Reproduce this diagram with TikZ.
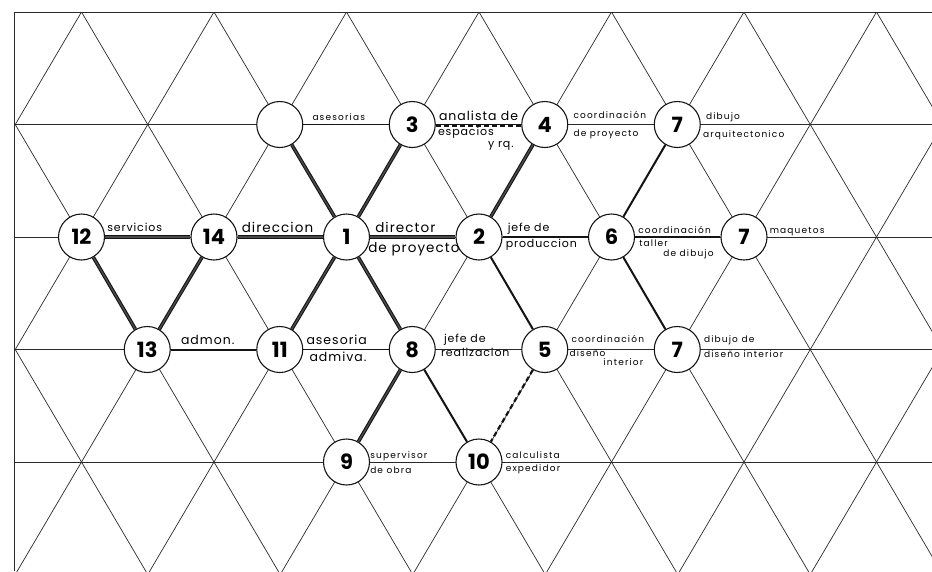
\documentclass[tikz,border=0pt]{standalone}
\usepackage{fontspec}
\setmainfont{Poppins}
\newfontfamily\letterfont[LetterSpace=13]{Poppins}
\newfontfamily\wordfont[LetterSpace=8]{Poppins}
\usetikzlibrary{positioning, calc}
\definecolor{gridInk}{HTML}{2A2A2A}
\definecolor{linkInk}{HTML}{151515}
\definecolor{linkFill}{HTML}{4A4A4A}

\begin{document}
\begin{tikzpicture}[
    x=1pt, y=-1pt,
    gridline/.style={draw=gridInk, line width=0.7pt},
    post/.style={
        circle, draw=linkInk, line width=1.1pt, fill=white,
        minimum size=46pt, inner sep=0pt,
        font=\fontsize{21}{21}\selectfont\bfseries
    },
    heavy/.style={draw=linkInk, line width=1.1pt, double=linkFill, double distance=1.4pt},
    medium/.style={draw=linkInk, line width=2pt},
    plain/.style={draw=linkInk, line width=0.9pt},
    dashlink/.style={draw=linkInk, line width=2.2pt, dash pattern=on 5pt off 3pt},
    tag/.style={font=\letterfont\fontsize{9}{9}\selectfont, anchor=base west, inner sep=0pt},
    midtag/.style={tag, font=\wordfont\fontsize{11}{11}\selectfont},
    bigtag/.style={tag, font=\wordfont\fontsize{12.5}{12.5}\selectfont}
]
\useasboundingbox (0,0) rectangle (932,571);

% Triangular grid
\begin{scope}
\clip (14.75,12) rectangle (932,571);
\foreach \r in {0,...,4}
    \draw[gridline] (14.75,12+112.5*\r) -- (932,12+112.5*\r);
\foreach \k in {-5,...,9} {
    \draw[gridline] (81.5+132.5*\k,12) -- ++(331.25,562.5);
    \draw[gridline] (81.5+132.5*\k,12) -- ++(-331.25,562.5);
}
\end{scope}
\draw[gridline] (14.75,571) -- (14.75,12) -- (932,12);

% Row 1
\node[post] (nb) at (279.75,124.5) {};
\node[post] (n3) at (412.25,124.5) {3};
\node[post] (n4) at (544.75,124.5) {4};
\node[post] (n7a) at (677.25,124.5) {7};

% Row 2
\node[post] (n12) at (81.5,237) {12};
\node[post] (n14) at (214,237) {14};
\node[post] (n1) at (346.5,237) {1};
\node[post] (n2) at (479,237) {2};
\node[post] (n6) at (611.5,237) {6};
\node[post] (n7b) at (744,237) {7};

% Row 3
\node[post] (n13) at (147.25,349.5) {13};
\node[post] (n11) at (279.75,349.5) {11};
\node[post] (n8) at (412.25,349.5) {8};
\node[post] (n5) at (544.75,349.5) {5};
\node[post] (n7c) at (677.25,349.5) {7};

% Row 4
\node[post] (n9) at (346.5,462) {9};
\node[post] (n10) at (479,462) {10};

% Links
\draw[heavy] (nb) -- (n1);
\draw[heavy] (n3) -- (n1);
\draw[heavy] (n4) -- (n2);
\draw[heavy] (n12) -- (n14);
\draw[heavy] (n14) -- (n1);
\draw[heavy] (n1) -- (n2);
\draw[heavy] (n12) -- (n13);
\draw[heavy] (n14) -- (n13);
\draw[heavy] (n1) -- (n11);
\draw[heavy] (n1) -- (n8);
\draw[heavy] (n8) -- (n9);
\draw[medium] (n13) -- (n11);
\draw[medium] (n2) -- (n6);
\draw[medium] (n2) -- (n5);
\draw[medium] (n6) -- (n7a);
\draw[medium] (n6) -- (n7c);
\draw[medium] (n6) -- (n7b);
\draw[medium] (n8) -- (n10);
\draw[plain] (nb) -- (n3);
\draw[plain] (n3) -- (n4);
\draw[dashlink, line width=1.4pt, transform canvas={yshift=-1.6pt}] (n3) -- (n4);
\draw[plain] (n11) -- (n8);
\draw[dashlink] (n5) -- (n10);

% Labels, row 1
\node[tag] (tb) at ($(nb.east)+(9,-4.5)$) {asesorias};
\node[bigtag] (t3a) at ($(n3.east)+(3,-4)$) {analista de};
\node[midtag] (t3b) at ($(n3.east)+(2,11)$) {espacios};
\node[midtag] (t3c) at ($(n3.east)+(52,23)$) {y rq.};
\node[tag] (t4a) at ($(n4.east)+(5,-6)$) {coordinación};
\node[tag] (t4b) at ($(n4.east)+(5,12)$) {de proyecto};
\node[tag] (t7a) at ($(n7a.east)+(5,-5)$) {dibujo};
\node[tag] (t7b) at ($(n7a.east)+(2,13)$) {arquitectonico};

% Labels, row 2
\node[midtag] (t12) at ($(n12.east)+(2,-6)$) {servicios};
\node[bigtag, font=\wordfont\fontsize{13.5}{13.5}\selectfont] (t14) at ($(n14.east)+(4,-5)$) {direccion};
\node[bigtag, font=\wordfont\fontsize{13.5}{13.5}\selectfont] (t1a) at ($(n1.east)+(5,-5)$) {director};
\node[bigtag, font=\wordfont\fontsize{13.5}{13.5}\selectfont] (t1b) at ($(n1.east)+(-2,15)$) {de proyecto};
\node[midtag] (t2a) at ($(n2.east)+(5,-6)$) {jefe de};
\node[midtag] (t2b) at ($(n2.east)+(3,10)$) {produccion};
\node[tag] (t6a) at ($(n6.east)+(3,-4)$) {coordinación};
\node[tag] (t6b) at ($(n6.east)+(4,9)$) {taller};
\node[tag] (t6c) at ($(n6.east)+(28,19)$) {de dibujo};
\node[tag] (t7c) at ($(n7b.east)+(2,-4)$) {maquetos};

% Labels, row 3
\node[bigtag] (t13) at ($(n13.east)+(10,-5)$) {admon.};
\node[bigtag] (t11a) at ($(n11.east)+(3,-5)$) {asesoria};
\node[bigtag] (t11b) at ($(n11.east)+(6,12)$) {admiva.};
\node[midtag] (t8a) at ($(n8.east)+(8,-7)$) {jefe de};
\node[midtag] (t8b) at ($(n8.east)+(5,7)$) {realizacion};
\node[tag] (t5a) at ($(n5.east)+(3,-7)$) {coordinación};
\node[tag] (t5b) at ($(n5.east)+(1,7)$) {diseño};
\node[tag] (t5c) at ($(n5.east)+(35,16)$) {interior};
\node[tag] (t7d) at ($(n7c.east)+(3,-7)$) {dibujo de};
\node[tag] (t7e) at ($(n7c.east)+(3,8)$) {diseño interior};

% Labels, row 4
\node[tag] (t9a) at ($(n9.east)+(0,-4)$) {supervisor};
\node[tag] (t9b) at ($(n9.east)+(0,11)$) {de obra};
\node[tag] (t10a) at ($(n10.east)+(3,-4)$) {calculista};
\node[tag] (t10b) at ($(n10.east)+(3,9)$) {expedidor};

\end{tikzpicture}
\end{document}
